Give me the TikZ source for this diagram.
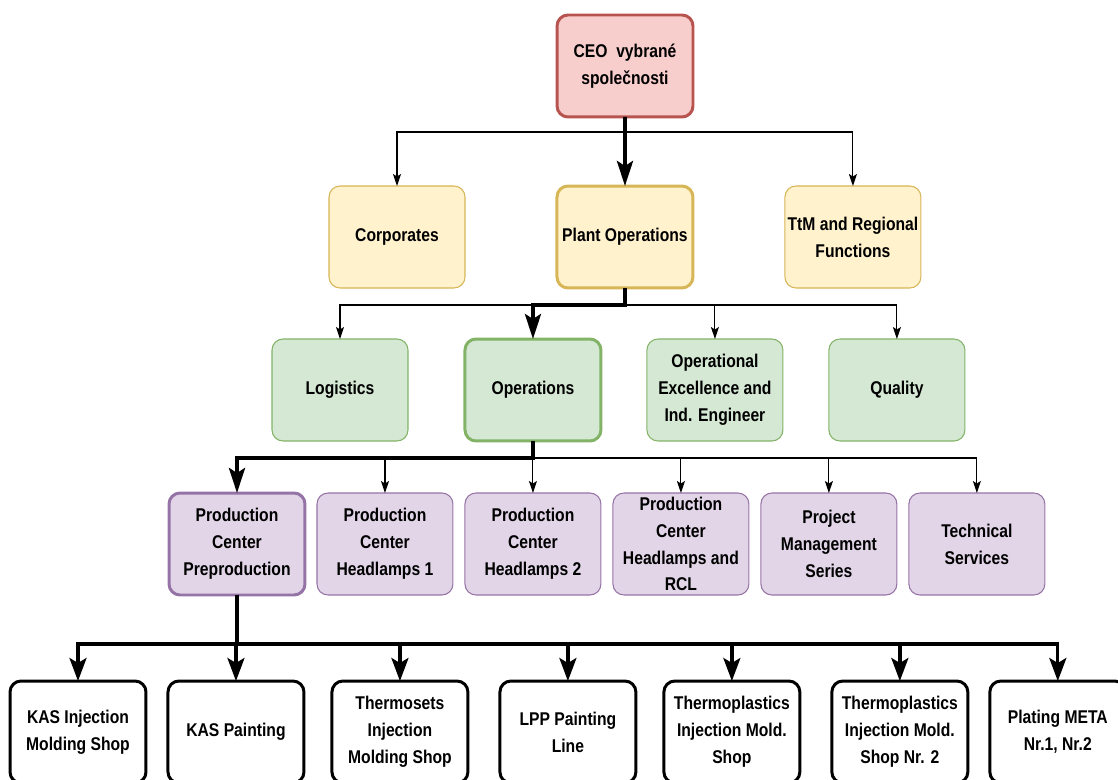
\documentclass[tikz,border=0pt]{standalone}
\usepackage{fontspec}
\setmainfont{Liberation Sans}[FakeStretch=0.85]
\usetikzlibrary{positioning,arrows.meta}

\definecolor{ceofill}{HTML}{F8CECC}
\definecolor{ceoline}{HTML}{B85450}
\definecolor{yelfill}{HTML}{FFF2CC}
\definecolor{yelline}{HTML}{D6B656}
\definecolor{grnfill}{HTML}{D5E8D4}
\definecolor{grnline}{HTML}{82B366}
\definecolor{purfill}{HTML}{E1D5E7}
\definecolor{purline}{HTML}{9673A6}

\tikzset{
  unit/.style={draw, rounded corners=0.22cm, minimum width=2.72cm, minimum height=2.04cm,
    align=center, inner sep=1pt, outer sep=0pt, line width=0.6pt,
    font=\fontsize{10.5}{15.3}\selectfont\bfseries},
  ceobox/.style={unit, fill=ceofill, draw=ceoline},
  corpbox/.style={unit, fill=yelfill, draw=yelline},
  opsbox/.style={unit, fill=grnfill, draw=grnline},
  pcbox/.style={unit, fill=purfill, draw=purline},
  shopbox/.style={unit, fill=white, draw=black, line width=1.7pt},
  keybox/.style={line width=1.7pt},
  link/.style={draw, line width=0.6pt, -{Stealth[length=0.24cm, width=0.16cm, inset=0.05cm]}},
  mainlink/.style={draw, line width=2.2pt, -{Stealth[length=0.5cm, width=0.32cm, inset=0.1cm]}},
  shoplink/.style={draw, line width=1.9pt, -{Stealth[length=0.46cm, width=0.34cm, inset=0.1cm]}}
}

\begin{document}
\begin{tikzpicture}[x=0.02cm, y=-0.02cm]
  \useasboundingbox (0,0) rectangle (1118,780);

  % top
  \node[ceobox, keybox] (ceo) at (625,66) {CEO~ vybrané\\společnosti};

  % level 1
  \node[corpbox] (corp) at (397,237) {Corporates};
  \node[corpbox, keybox, right=1.84cm of corp] (plant) {Plant Operations};
  \node[corpbox, right=1.84cm of plant] (ttm) {TtM and Regional\\Functions};

  % level 2
  \node[opsbox] (log) at (340,390) {Logistics};
  \node[opsbox, keybox, right=1.14cm of log] (ops) {Operations};
  \node[opsbox, right=0.92cm of ops] (opex) {Operational\\Excellence and\\Ind. Engineer};
  \node[opsbox, right=0.92cm of opex] (qual) {Quality};

  % level 3
  \node[pcbox, keybox] (ppre) at (237,544) {Production\\Center\\Preproduction};
  \node[pcbox, right=0.24cm of ppre] (ph1) {Production\\Center\\Headlamps 1};
  \node[pcbox, right=0.24cm of ph1] (ph2) {Production\\Center\\Headlamps 2};
  \node[pcbox, right=0.24cm of ph2] (prcl) {Production\\Center\\Headlamps and\\RCL};
  \node[pcbox, right=0.24cm of prcl] (pms) {Project\\Management\\Series};
  \node[pcbox, right=0.24cm of pms] (tech) {Technical\\Services};

  % shops
  \node[shopbox] (kasi) at (78,732) {KAS Injection\\Molding Shop};
  \node[shopbox, right=0.44cm of kasi] (kasp) {KAS Painting};
  \node[shopbox, right=0.56cm of kasp] (therm) {Thermosets\\Injection\\Molding Shop};
  \node[shopbox, right=0.64cm of therm] (lpp) {LPP Painting\\Line};
  \node[shopbox, right=0.56cm of lpp] (tpl) {Thermoplastics\\Injection Mold.\\Shop};
  \node[shopbox, right=0.64cm of tpl] (tpl2) {Thermoplastics\\Injection Mold.\\Shop Nr. 2};
  \node[shopbox, right=0.44cm of tpl2] (plat) {Plating META\\Nr.1, Nr.2};

  % connectors
  \foreach \n in {corp,ttm}
    \draw[link] (ceo.south) -- ++(0,15) -| (\n);
  \draw[mainlink] (ceo) -- (plant);

  \foreach \n in {log,opex,qual}
    \draw[link] (plant.south) -- ++(0,17) -| (\n);
  \draw[mainlink] (plant.south) -- ++(0,17) -| (ops);

  \foreach \n in {ph1,ph2,prcl,pms,tech}
    \draw[link] (ops.south) -- ++(0,17) -| (\n);
  \draw[mainlink] (ops.south) -- ++(0,17) -| (ppre);

  \foreach \n in {kasi,kasp,therm,lpp,tpl,tpl2,plat}
    \draw[shoplink] (ppre.south) -- ++(0,49) -| (\n);
\end{tikzpicture}
\end{document}
